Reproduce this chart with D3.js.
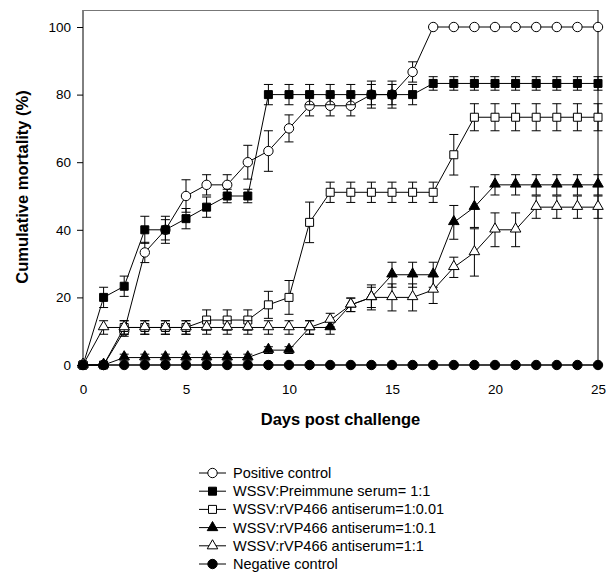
<!DOCTYPE html>
<html>
<head>
<meta charset="utf-8">
<script src="https://cdn.jsdelivr.net/npm/d3@7"></script>
<style>
  body { margin: 0; background: #fff; }
  svg text { font-family: "Liberation Sans", Arial, sans-serif; fill: #000; }
</style>
</head>
<body>
<div id="chart"></div>
<script>
// days 0..25
var days = d3.range(0, 26);

var seriesNames = [
  'Positive control',
  'WSSV:Preimmune serum= 1:1',
  'WSSV:rVP466 antiserum=1:0.01',
  'WSSV:rVP466 antiserum=1:0.1',
  'WSSV:rVP466 antiserum=1:1',
  'Negative control'
];

var positive = [0, 0, 10, 33.3, 40, 50, 53.3, 53.3, 60, 63.3, 70, 76.7, 76.7, 76.7, 80, 80, 86.7, 100, 100, 100, 100, 100, 100, 100, 100, 100];
var positiveErr = [0, 0, 1.5, 3, 3, 4.8, 3, 3, 5, 6, 4, 3, 3, 3, 3, 3, 3, 0, 0, 0, 0, 0, 0, 0, 0, 0];

var preimmune = [0, 20, 23.3, 40, 40, 43.3, 46.7, 50, 50, 80, 80, 80, 80, 80, 80, 80, 80, 83.3, 83.3, 83.3, 83.3, 83.3, 83.3, 83.3, 83.3, 83.3];
var preimmuneErr = [0, 3, 3, 4, 4, 3, 3, 2, 2, 3, 3, 3, 3, 3, 4, 4, 3, 2, 2, 2, 2, 2, 2, 2, 2, 2];

var anti001 = [0, 0, 11.1, 11.1, 11.1, 11.1, 13.3, 13.3, 13.3, 17.8, 20, 42.2, 51.1, 51.1, 51.1, 51.1, 51.1, 51.1, 62.2, 73.3, 73.3, 73.3, 73.3, 73.3, 73.3, 73.3];
var anti001Err = [0, 0, 2, 2, 2, 2, 3, 3, 3, 4, 5, 6, 3, 3, 3, 3, 3, 3, 6, 4, 4, 4, 4, 4, 4, 4];

var anti01 = [0, 0, 2.2, 2.2, 2.2, 2.2, 2.2, 2.2, 2.2, 4.4, 4.4, 11.1, 11.1, 17.8, 20, 26.7, 26.7, 26.7, 42.2, 46.7, 53.3, 53.3, 53.3, 53.3, 53.3, 53.3];
var anti01Err = [0, 0, 1, 1, 1, 1, 1, 1, 1, 1, 1, 2, 2, 2, 3, 3.7, 3.7, 3.7, 5, 6, 3, 3, 3, 3, 3, 3];

var anti1 = [0, 11.1, 11.1, 11.1, 11.1, 11.1, 11.1, 11.1, 11.1, 11.1, 11.1, 11.1, 13.3, 17.8, 20, 20, 20, 22.2, 28.9, 33.3, 40, 40, 46.7, 46.7, 46.7, 46.7];
var anti1Err = [0, 2, 2, 2, 2, 2, 2, 2, 2, 2, 2, 2, 2, 2, 3.7, 4, 4, 4, 3, 7, 5, 5, 3.3, 3.3, 3.3, 3.3];

var negative = [0, 0, 0, 0, 0, 0, 0, 0, 0, 0, 0, 0, 0, 0, 0, 0, 0, 0, 0, 0, 0, 0, 0, 0, 0, 0];
var negativeErr = [0, 0, 0, 0, 0, 0, 0, 0, 0, 0, 0, 0, 0, 0, 0, 0, 0, 0, 0, 0, 0, 0, 0, 0, 0, 0];

var xTicks = [0, 5, 10, 15, 20, 25];
var yTicks = [0, 20, 40, 60, 80, 100];

var series = [
  {name: seriesNames[0], values: positive, err: positiveErr, shape: 'circle', fill: '#fff'},
  {name: seriesNames[1], values: preimmune, err: preimmuneErr, shape: 'square', fill: '#000'},
  {name: seriesNames[2], values: anti001, err: anti001Err, shape: 'square', fill: '#fff'},
  {name: seriesNames[3], values: anti01, err: anti01Err, shape: 'triangle', fill: '#000'},
  {name: seriesNames[4], values: anti1, err: anti1Err, shape: 'triangle', fill: '#fff'},
  {name: seriesNames[5], values: negative, err: negativeErr, shape: 'circle', fill: '#000'}
];

var width = 610, height = 574;

var svg = d3.select('#chart').append('svg')
    .attr('width', width)
    .attr('height', height);

var x = d3.scaleLinear().domain([0, 25]).range([83, 598]);
var y = d3.scaleLinear().domain([0, 100]).range([365, 27]);
var yTop = 10;

function symbolPath(shape) {
  if (shape === 'circle') return d3.symbol().type(d3.symbolCircle).size(Math.PI * 4.7 * 4.7)();
  if (shape === 'square') return d3.symbol().type(d3.symbolSquare).size(8 * 8)();
  return d3.symbol().type(d3.symbolTriangle).size(48)();
}

// frame
var frame = svg.append('g').attr('class', 'frame')
    .attr('fill', 'none').attr('stroke', '#000').attr('stroke-width', 1);
frame.append('line').attr('x1', x(0)).attr('x2', x(0)).attr('y1', yTop).attr('y2', y(0));
frame.append('line').attr('x1', x(0)).attr('x2', x(25)).attr('y1', yTop + 0.5).attr('y2', yTop + 0.5).attr('stroke', '#777');
frame.append('line').attr('x1', x(25)).attr('x2', x(25)).attr('y1', yTop).attr('y2', y(0));
frame.append('line').attr('x1', x(0)).attr('x2', x(25)).attr('y1', y(0)).attr('y2', y(0));

// y axis
var yAxis = svg.append('g')
    .attr('transform', 'translate(' + x(0) + ',0)')
    .call(d3.axisLeft(y).tickValues(yTicks).tickSize(6).tickPadding(6));
yAxis.select('.domain').remove();
yAxis.selectAll('text').style('font-size', '13.5px').attr('font-family', null);

// x axis labels (no tick marks)
var xAxis = svg.append('g')
    .attr('transform', 'translate(0,' + y(0) + ')')
    .call(d3.axisBottom(x).tickValues(xTicks).tickSize(0).tickPadding(19));
xAxis.select('.domain').remove();
xAxis.selectAll('text').style('font-size', '13.5px').attr('font-family', null);

// axis titles
svg.append('text')
    .attr('x', (x(0) + x(25)) / 2)
    .attr('y', 425)
    .attr('text-anchor', 'middle')
    .style('font-size', '16.5px')
    .style('font-weight', 'bold')
    .text('Days post challenge');

svg.append('text')
    .attr('transform', 'translate(28,' + 187 + ') rotate(-90)')
    .attr('text-anchor', 'middle')
    .style('font-size', '16.5px')
    .style('font-weight', 'bold')
    .text('Cumulative mortality (%)');

// series
var line = d3.line()
    .x(function(d, i) { return x(days[i]); })
    .y(function(d) { return y(d); });

var capW = 4.5;

series.forEach(function(s) {
  var g = svg.append('g').attr('class', 'series');

  g.append('path')
      .datum(s.values)
      .attr('fill', 'none')
      .attr('stroke', '#000')
      .attr('stroke-width', 1)
      .attr('d', line);

  var errData = s.values.map(function(v, i) { return {d: days[i], v: v, e: s.err[i]}; })
      .filter(function(p) { return p.e > 0; });

  var eb = g.selectAll('.err').data(errData).enter().append('g')
      .attr('class', 'err')
      .attr('stroke', '#000')
      .attr('stroke-width', 1);
  eb.append('line')
      .attr('x1', function(p) { return x(p.d); })
      .attr('x2', function(p) { return x(p.d); })
      .attr('y1', function(p) { return y(p.v + p.e); })
      .attr('y2', function(p) { return y(p.v - p.e); });
  eb.append('line')
      .attr('x1', function(p) { return x(p.d) - capW; })
      .attr('x2', function(p) { return x(p.d) + capW; })
      .attr('y1', function(p) { return y(p.v + p.e); })
      .attr('y2', function(p) { return y(p.v + p.e); });
  eb.append('line')
      .attr('x1', function(p) { return x(p.d) - capW; })
      .attr('x2', function(p) { return x(p.d) + capW; })
      .attr('y1', function(p) { return y(p.v - p.e); })
      .attr('y2', function(p) { return y(p.v - p.e); });

  g.selectAll('.pt').data(s.values).enter().append('path')
      .attr('class', 'pt')
      .attr('d', symbolPath(s.shape))
      .attr('transform', function(d, i) {
        var dy = s.shape === 'triangle' ? -0.8 : 0;
        return 'translate(' + x(days[i]) + ',' + (y(d) + dy) + ')';
      })
      .attr('fill', s.fill)
      .attr('stroke', '#000')
      .attr('stroke-width', 1);
});

// legend
var legend = svg.append('g').attr('class', 'legend');
var leg = legend.selectAll('.item').data(series).enter().append('g')
    .attr('class', 'item')
    .attr('transform', function(d, i) { return 'translate(0,' + (473 + i * 18.2) + ')'; });
leg.append('line')
    .attr('x1', 199).attr('x2', 226)
    .attr('stroke', '#000').attr('stroke-width', 1);
leg.append('path')
    .attr('d', function(d) { return symbolPath(d.shape); })
    .attr('transform', 'translate(212.5,0)')
    .attr('fill', function(d) { return d.fill; })
    .attr('stroke', '#000');
leg.append('text')
    .attr('x', 233)
    .attr('dy', '0.35em')
    .style('font-size', '14.5px')
    .text(function(d) { return d.name; });
</script>
</body>
</html>
